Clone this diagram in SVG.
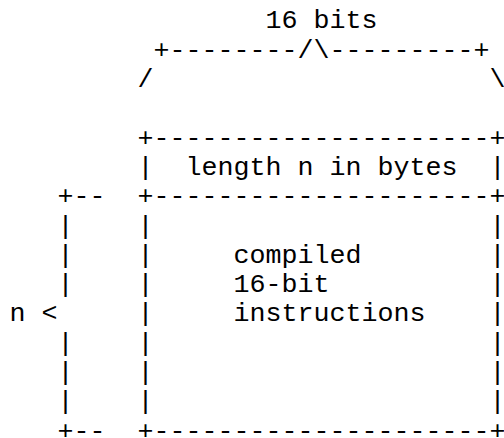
<svg xmlns="http://www.w3.org/2000/svg" width="504" height="438" viewBox="0 0 504 438">
<style>
text{font-family:"Liberation Mono","Courier New",monospace;font-size:26.67px;fill:#000;white-space:pre}
</style>
<rect width="504" height="438" fill="#fff"/>
<g id="width-brace">
<text x="265.5" y="28.4">16 bits</text>
<text x="153.5" y="57.7">+--------/\---------+</text>
<text x="137.5" y="87">/</text>
<text x="489.5" y="87">\</text>
</g>
<g id="header-box">
<text x="137.5" y="145.6">+---------------------+</text>
<text x="137.5" y="174.9">|</text>
<text x="185.5" y="174.9">length n in bytes</text>
<text x="489.5" y="174.9">|</text>
</g>
<g id="body-box">
<text x="137.5" y="204.2">+---------------------+</text>
<text x="137.5" y="233.5">|</text><text x="489.5" y="233.5">|</text>
<text x="137.5" y="262.8">|</text><text x="233.5" y="262.8">compiled</text><text x="489.5" y="262.8">|</text>
<text x="137.5" y="292.1">|</text><text x="233.5" y="292.1">16-bit</text><text x="489.5" y="292.1">|</text>
<text x="137.5" y="321.4">|</text><text x="233.5" y="321.4">instructions</text><text x="489.5" y="321.4">|</text>
<text x="137.5" y="350.7">|</text><text x="489.5" y="350.7">|</text>
<text x="137.5" y="380">|</text><text x="489.5" y="380">|</text>
<text x="137.5" y="409.3">|</text><text x="489.5" y="409.3">|</text>
<text x="137.5" y="438.6">+---------------------+</text>
</g>
<g id="length-bracket">
<text x="57.5" y="204.2">+--</text>
<text x="57.5" y="233.5">|</text>
<text x="57.5" y="262.8">|</text>
<text x="57.5" y="292.1">|</text>
<text x="9.5" y="321.4">n &lt;</text>
<text x="57.5" y="350.7">|</text>
<text x="57.5" y="380">|</text>
<text x="57.5" y="409.3">|</text>
<text x="57.5" y="438.6">+--</text>
</g>
</svg>
